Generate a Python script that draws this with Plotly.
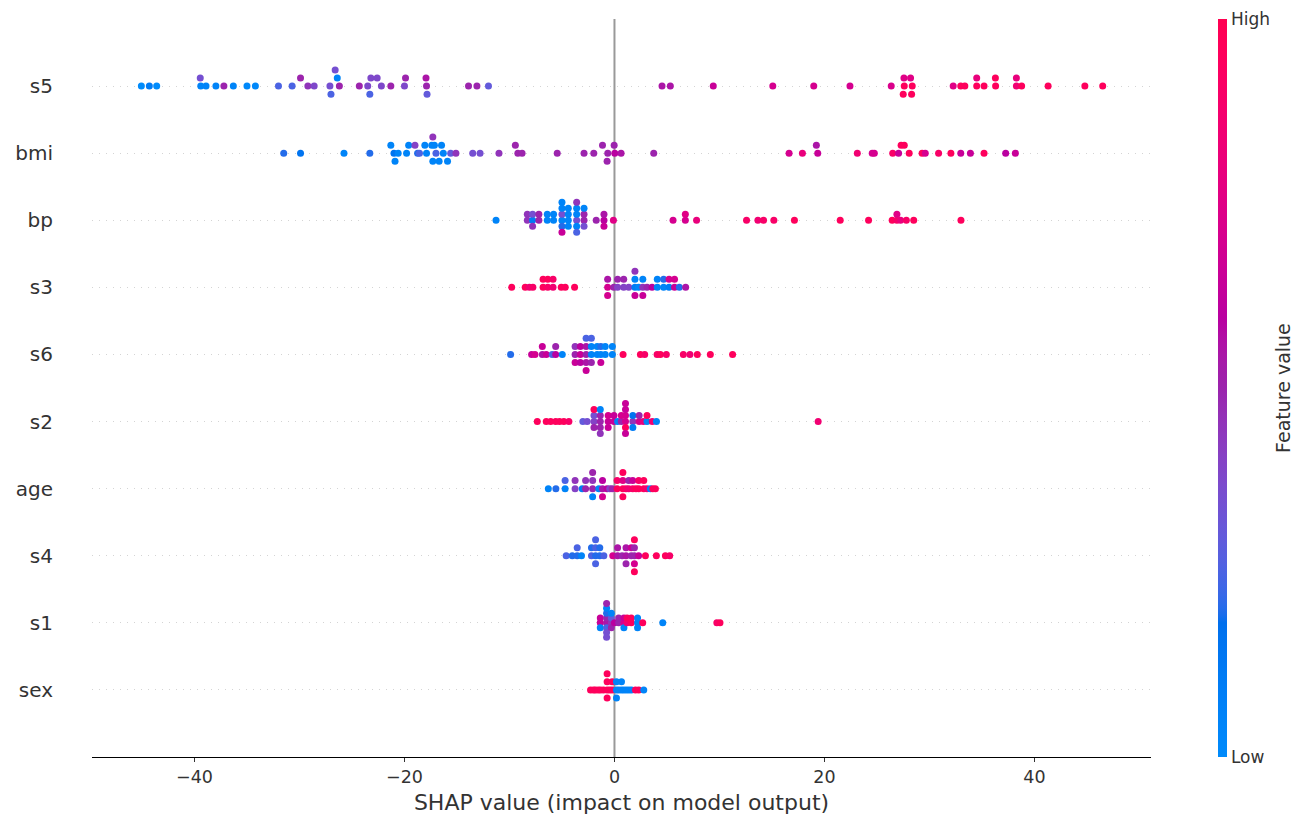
import numpy as np
import plotly.graph_objects as go

# feature rows, bottom to top
features = ["sex", "s1", "s4", "age", "s2", "s6", "s3", "bp", "bmi", "s5"]

# SHAP values and (normalised) feature values
s5_shap = [-45.06, -44.3, -43.6, -39.4, -39.45, -38.9, -37.96, -37.2, -36.3, -35.0, -34.2, -32.0,
           -30.7, -29.2, -29.9, -28.6, -27.1, -26.4, -27.0, -26.6, -26.2, -24.3, -23.5, -23.2,
           -23.3, -22.2, -22.6, -21.3, -20.0, -19.9, -17.9, -17.95, -17.85, -13.9, -13.1, -12.0,
           4.53, 5.32, 9.41, 15.08, 18.98, 22.43, 26.36, 27.6, 27.57, 27.5, 28.36, 28.2, 28.3,
           32.26, 32.98, 33.37, 34.5, 34.5, 35.2, 36.3, 36.28, 38.28, 38.28, 38.78, 41.3, 44.8, 46.5]
s5_feat = [0.0, 0.1, 0.0, 0.05, 0.35, 0.05, 0.05, 0.5, 0.05, 0.02, 0.02, 0.25,
           0.25, 0.45, 0.5, 0.38, 0.35, 0.05, 0.25, 0.35, 0.5, 0.5, 0.38, 0.38,
           0.25, 0.38, 0.38, 0.5, 0.38, 0.5, 0.5, 0.55, 0.3, 0.5, 0.5, 0.3,
           0.55, 0.55, 0.65, 0.7, 0.7, 0.7, 0.72, 0.95, 0.75, 0.95, 0.95, 0.75, 0.95,
           0.75, 0.95, 0.95, 0.95, 0.8, 0.95, 0.95, 0.95, 0.85, 0.8, 0.95, 0.95, 0.95, 0.95]

bmi_shap = [-31.5, -29.9, -25.76, -23.3, -21.0, -21.3, -20.9, -20.6, -19.8, -19.6, -18.75, -19.0,
            -18.57, -18.06, -17.9, -17.4, -17.3, -17.3, -17.0, -17.15, -16.7, -16.3, -16.47, -15.9,
            -15.6, -15.1, -13.5, -12.8, -11.0, -9.2, -9.44, -8.8, -5.45, -2.9, -1.97, -0.64, -1.14,
            -0.7, 0.03, -0.03, 0.63, 3.74,
            16.63, 17.9, 19.36, 19.23, 23.13, 24.55, 24.75, 26.5, 27.06, 27.3, 28.07, 27.6, 29.3,
            29.6, 30.87, 32.04, 32.98, 33.9, 35.2, 37.26, 38.18]
bmi_feat = [0.2, 0.15, 0.05, 0.2, 0.15, 0.05, 0.05, 0.05, 0.05, 0.05, 0.2, 0.4,
            0.25, 0.05, 0.05, 0.05, 0.05, 0.45, 0.25, 0.05, 0.05, 0.05, 0.05, 0.05,
            0.3, 0.45, 0.35, 0.35, 0.45, 0.5, 0.5, 0.5, 0.5, 0.5, 0.5, 0.5, 0.5,
            0.5, 0.6, 0.5, 0.55, 0.5,
            0.7, 0.8, 0.65, 0.55, 0.85, 0.7, 0.7, 0.9, 0.65, 0.95, 0.95, 0.95, 0.95,
            0.7, 0.9, 0.95, 0.65, 0.65, 0.95, 0.6, 0.65]

bp_shap = [-11.28, -8.3, -8.3, -7.8, -7.8, -7.8, -7.2, -7.2, -6.4, -6.4, -5.8, -5.8,
           -5.0, -5.0, -5.0, -5.0, -5.0, -5.0, -4.4, -4.4, -4.4, -4.4,
           -3.6, -3.6, -3.6, -3.6, -3.6, -3.6, -2.9, -2.9, -2.9, -2.9, -1.74, -1.0, -1.0, -1.0, -0.1,
           5.58, 6.75, 6.75, 7.82, 12.58, 13.66, 14.2, 15.18, 17.14, 21.5, 24.2, 26.45, 26.9, 26.9,
           27.25, 27.8, 28.5, 33.0]
bp_feat = [0.05, 0.45, 0.45, 0.1, 0.35, 0.45, 0.5, 0.5, 0.05, 0.05, 0.05, 0.05,
           0.05, 0.35, 0.2, 0.05, 0.65, 0.05, 0.05, 0.05, 0.05, 0.05,
           0.35, 0.05, 0.05, 0.05, 0.25, 0.45, 0.5, 0.5, 0.35, 0.05, 0.5, 0.6, 0.55, 0.65, 0.75,
           0.7, 0.7, 0.75, 0.8, 0.9, 0.85, 0.9, 0.9, 0.95, 0.95, 0.95, 0.95, 0.9, 0.75,
           0.8, 0.9, 0.95, 0.95]

s3_shap = [-9.79, -8.5, -8.1, -7.77, -6.8, -6.8, -6.35, -6.35, -5.85, -5.85, -5.07, -4.69, -3.8,
           -0.65, -0.65, -0.65, -0.06, 0.3, 0.3, 0.88, 0.88, 1.36, 1.95, 1.95, 1.95, 1.95, 2.3,
           2.7, 2.7, 2.7, 3.1, 3.58, 4.08, 4.08, 4.68, 4.68, 5.2, 5.2, 5.72, 5.72, 6.18, 6.78]
s3_feat = [0.95, 0.95, 0.85, 0.9, 0.95, 0.95, 0.9, 0.95, 0.85, 0.9, 0.95, 0.95, 0.95,
           0.7, 0.55, 0.7, 0.5, 0.4, 0.5, 0.4, 0.5, 0.4, 0.1, 0.05, 0.65, 0.45, 0.05,
           0.45, 0.05, 0.65, 0.5, 0.6, 0.05, 0.05, 0.05, 0.2, 0.1, 0.7, 0.65, 0.7, 0.2, 0.55]

s6_shap = [-9.89, -7.89, -7.57, -6.87, -6.87, -6.5, -5.93, -5.6, -5.6, -4.97,
           -3.75, -3.75, -3.75, -3.25, -3.25, -3.25, -2.7, -2.7, -2.7, -2.7, -2.7,
           -2.2, -2.2, -2.2, -2.2, -1.65, -1.65, -1.3, -1.3, -1.3, -0.88, -0.88, -0.2, -0.2,
           0.82, 2.47, 2.88, 4.06, 4.37, 4.94, 6.56, 7.19, 7.89, 9.13, 11.25]
s6_feat = [0.2, 0.65, 0.7, 0.55, 0.65, 0.65, 0.25, 0.6, 0.5, 0.05,
           0.5, 0.45, 0.65, 0.65, 0.6, 0.6, 0.5, 0.55, 0.55, 0.25, 0.65,
           0.05, 0.05, 0.5, 0.25, 0.05, 0.05, 0.05, 0.2, 0.65, 0.05, 0.05, 0.05, 0.05,
           0.95, 0.95, 0.9, 0.9, 0.95, 0.9, 0.9, 0.85, 0.95, 0.95, 0.95]

s2_shap = [-7.35, -6.5, -6.08, -5.6, -5.23, -4.82, -4.34, -3.01, -2.6,
           -1.95, -1.95, -1.95, -1.95, -1.35, -1.35, -1.35, -1.35, -1.35,
           -0.6, -0.6, -0.6, -0.05, -0.05, 0.3, 0.65, 0.65,
           1.05, 1.05, 1.05, 1.05, 1.05, 1.05, 1.75, 1.75, 1.75, 2.35, 2.35, 2.75,
           3.1, 3.1, 3.6, 4.0, 19.4]
s2_feat = [0.95, 0.95, 0.95, 0.95, 0.95, 0.95, 0.9, 0.3, 0.35,
           0.4, 0.35, 0.5, 0.95, 0.5, 0.5, 0.5, 0.05, 0.45,
           0.65, 0.7, 0.65, 0.65, 0.65, 0.05, 0.5, 0.7,
           0.7, 0.7, 0.95, 0.65, 0.65, 0.65, 0.45, 0.15, 0.1, 0.7, 0.5, 0.8,
           0.05, 0.95, 0.85, 0.05, 0.85]

age_shap = [-6.3, -5.58, -4.7, -4.7, -3.75, -3.75, -3.07, -2.75, -2.75,
            -2.08, -2.08, -2.08, -2.08, -1.49, -1.14, -1.14, -1.14, -0.7, -0.45, -0.22,
            0.25, 0.25, 0.8, 0.8, 0.8, 0.8, 1.1, 1.36, 1.36, 1.74, 1.74, 2.05,
            2.31, 2.31, 2.79, 2.79, 3.1, 3.42, 3.65, 3.9]
age_feat = [0.05, 0.2, 0.05, 0.25, 0.4, 0.45, 0.1, 0.5, 0.45,
            0.5, 0.45, 0.05, 0.5, 0.05, 0.55, 0.6, 0.7, 0.6, 0.4, 0.5,
            0.95, 0.9, 0.95, 0.75, 0.95, 0.95, 0.9, 0.85, 0.5, 0.9, 0.65, 0.95,
            0.95, 0.9, 0.95, 0.95, 0.85, 0.05, 0.95, 0.95]

s4_shap = [-4.6, -4.02, -3.55, -3.55, -3.14, -2.19, -2.19, -1.8, -1.8, -1.8, -1.8,
           -1.4, -1.4, -1.01, -0.16, 0.3, 0.3, 0.73, 1.1, 1.1, 1.1, 1.6, 1.6,
           1.9, 1.9, 1.9, 1.9, 1.9, 2.3, 2.95, 3.99, 4.85, 5.26]
s4_feat = [0.25, 0.2, 0.2, 0.25, 0.05, 0.25, 0.2, 0.2, 0.25, 0.25, 0.25,
           0.2, 0.2, 0.25, 0.7, 0.55, 0.55, 0.5, 0.55, 0.55, 0.5, 0.5, 0.65,
           0.5, 0.5, 0.7, 0.95, 0.95, 0.65, 0.95, 0.95, 0.95, 0.9]

s1_shap = [-1.35, -1.35, -1.35, -0.75, -0.75, -0.75, -0.75, -0.75, -0.75, -0.75, -0.75,
           -0.3, -0.3, -0.3, -0.3, 0.0, 0.4, 0.4, 0.9, 0.9, 0.9, 1.2, 1.2, 1.6, 1.6,
           2.2, 2.2, 2.2, 2.69, 4.6, 9.75, 10.05]
s1_feat = [0.65, 0.65, 0.05, 0.55, 0.5, 0.25, 0.2, 0.35, 0.05, 0.35, 0.5,
           0.45, 0.3, 0.5, 0.05, 0.6, 0.5, 0.5, 0.7, 0.65, 0.05, 0.85, 0.95, 0.95, 0.95,
           0.05, 0.05, 0.05, 0.95, 0.05, 0.9, 0.95]

sex_shap = [-2.28, -2.0, -1.81, -1.55, -1.33, -1.05, -0.7, -0.7, -0.7, -0.7, -0.45,
            -0.22, -0.22, 0.19, 0.19, 0.19, 0.42, 0.67, 0.67, 0.9, 1.14, 1.38, 1.62,
            2.0, 2.31, 2.79]
sex_feat = [0.95, 0.95, 0.95, 0.95, 0.95, 0.95, 0.95, 0.95, 0.95, 0.95, 0.95,
            0.95, 0.95, 0.05, 0.05, 0.05, 0.05, 0.05, 0.05, 0.05, 0.05, 0.05, 0.05,
            0.95, 0.95, 0.05]

x_ticks = [-40, -20, 0, 20, 40]
x_ticktext = ["\u221240", "\u221220", "0", "20", "40"]

shap_data = {
    "sex": (sex_shap, sex_feat), "s1": (s1_shap, s1_feat), "s4": (s4_shap, s4_feat),
    "age": (age_shap, age_feat), "s2": (s2_shap, s2_feat), "s6": (s6_shap, s6_feat),
    "s3": (s3_shap, s3_feat), "bp": (bp_shap, bp_feat), "bmi": (bmi_shap, bmi_feat),
    "s5": (s5_shap, s5_feat),
}


def swarm_offsets(vals, nbins=100, row_height=0.4):
    # same binning/stacking rule as shap's beeswarm
    vals = np.asarray(vals, float)
    quant = np.round(nbins * (vals - vals.min()) / (vals.max() - vals.min() + 1e-8))
    inds = np.argsort(quant, kind="stable")
    ys = np.zeros(len(vals))
    layer, last_bin = 0, -1
    for ind in inds:
        if quant[ind] != last_bin:
            layer = 0
        ys[ind] = np.ceil(layer / 2) * ((layer % 2) * 2 - 1)
        layer += 1
        last_bin = quant[ind]
    return ys * 0.9 * (row_height / np.max(ys + 1))


def lch2rgb(l, c, h):
    a, b = c * np.cos(h), c * np.sin(h)
    fy = (l + 16) / 116
    fx, fz = fy + a / 500, fy - b / 200
    finv = lambda t: np.where(t > 6 / 29, t ** 3, 3 * (6 / 29) ** 2 * (t - 4 / 29))
    xyz = np.array([0.95047 * finv(fx), finv(fy), 1.08883 * finv(fz)])
    m = np.array([[3.2406, -1.5372, -0.4986], [-0.9689, 1.8758, 0.0415], [0.0557, -0.2040, 1.0570]])
    rgb = m @ xyz
    rgb = np.where(rgb > 0.0031308, 1.055 * np.abs(rgb) ** (1 / 2.4) - 0.055, 12.92 * rgb)
    return np.clip(rgb, 0, 1)


# shap red_blue colormap (LCH interpolation)
nsteps = 100
l_vals = list(np.linspace(54, 40, nsteps // 2)) + list(np.linspace(40, 54, nsteps // 2))
c_vals = np.linspace(70, 90, nsteps)
h_vals = np.linspace(4.6588, 0.35470565 + 2 * np.pi, nsteps)
colorscale = []
for pos, l, c, h in zip(np.linspace(0, 1, nsteps), l_vals, c_vals, h_vals):
    r, g, b = (lch2rgb(l, c, h) * 255).round().astype(int)
    colorscale.append([float(pos), f"rgb({r},{g},{b})"])

xs, ys, cs = [], [], []
for i, name in enumerate(features):
    sv, fv = shap_data[name]
    assert len(sv) == len(fv), name
    xs += list(sv)
    ys += list(i + swarm_offsets(sv))
    cs += list(fv)

fig = go.Figure()
fig.add_trace(go.Scatter(
    x=xs, y=ys, mode="markers",
    marker=dict(size=7, color=cs, colorscale=colorscale, cmin=0, cmax=1,
                line=dict(width=0),
                colorbar=dict(thickness=9, len=1, lenmode="fraction", y=0.5, yanchor="middle",
                              x=1.063, xanchor="left", xpad=0, ypad=0, outlinewidth=0,
                              tickvals=[0, 1], ticktext=["Low", "High"], ticks="",
                              tickfont=dict(size=17, color="#333333"))),
    showlegend=False, hoverinfo="x",
))

fig.add_shape(type="line", x0=0, x1=0, y0=0, y1=1, xref="x", yref="paper",
              line=dict(color="#999999", width=2), layer="below")

# colorbar label, placed like matplotlib's
fig.add_annotation(text="Feature value", x=1.1246, y=0.5, xref="paper", yref="paper",
                   xanchor="center", yanchor="middle", textangle=-90, showarrow=False,
                   font=dict(size=19, color="#333333"))

fig.update_layout(
    width=1305, height=828,
    margin=dict(l=92, r=154, t=19, b=71),
    plot_bgcolor="white", paper_bgcolor="white",
    font=dict(family="DejaVu Sans", color="#333333"),
    xaxis=dict(range=[-49.76, 51.1], tickvals=x_ticks, ticktext=x_ticktext,
               showgrid=False, zeroline=False, showline=True, linecolor="black", linewidth=1,
               ticks="outside", ticklen=4, tickcolor="#333333", tickfont=dict(size=17.5),
               title=dict(text="SHAP value (impact on model output)", font=dict(size=22),
                          standoff=8)),
    yaxis=dict(range=[-1, 10], tickvals=list(range(len(features))), ticktext=features,
               showgrid=True, gridcolor="#d4d4d4", gridwidth=0.6, griddash="1.4px,5.6px",
               zeroline=False, showline=False, ticks="", tickfont=dict(size=20),
               ticklabelstandoff=38),
)

fig.write_html("out.html", config={"displayModeBar": False},
               post_script="document.body.style.margin='0';")
